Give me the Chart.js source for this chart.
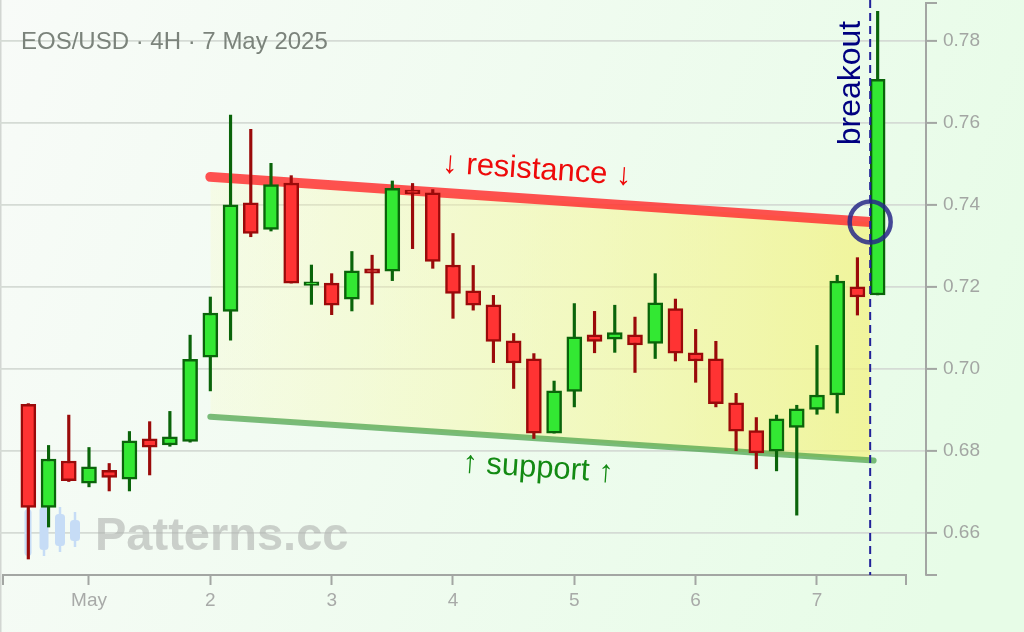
<!DOCTYPE html>
<html><head><meta charset="utf-8">
<script src="https://cdn.jsdelivr.net/npm/chart.js@4.4.0/dist/chart.umd.min.js"></script>
<style>html,body{margin:0;padding:0;background:#f2fbf2;overflow:hidden}#wrap{width:1024px;height:632px;position:relative}canvas{display:block}</style>
</head><body><div id="wrap"><canvas id="c"></canvas></div>
<script>
// ---- data (4H candles, Apr 30 12:00 -> May 7 12:00) ----
const candleIndex = [0,1,2,3,4,5,6,7,8,9,10,11,12,13,14,15,16,17,18,19,20,21,22,23,24,25,26,27,28,29,30,31,32,33,34,35,36,37,38,39,40,41,42];
const opens  = [0.6914,0.6663,0.6776,0.6722,0.6753,0.6732,0.6830,0.6815,0.6824,0.7029,0.7141,0.7406,0.7341,0.7454,0.7204,0.7210,0.7171,0.7245,0.7239,0.7437,0.7430,0.7254,0.7191,0.7157,0.7069,0.7025,0.6844,0.6946,0.7084,0.7073,0.7084,0.7063,0.7148,0.7040,0.7025,0.6918,0.6850,0.6800,0.6858,0.6902,0.6937,0.7201,0.7181];
const highs  = [0.6916,0.6814,0.6888,0.6809,0.6770,0.6848,0.6872,0.6897,0.7083,0.7176,0.7620,0.7585,0.7502,0.7472,0.7254,0.7233,0.7287,0.7278,0.7459,0.7453,0.7438,0.7331,0.7253,0.7180,0.7087,0.7038,0.6971,0.7160,0.7141,0.7156,0.7127,0.7233,0.7171,0.7097,0.7068,0.6941,0.6882,0.6888,0.6912,0.7058,0.7229,0.7272,0.7873];
const lows   = [0.6537,0.6615,0.6726,0.6713,0.6703,0.6703,0.6742,0.6812,0.6822,0.6947,0.7071,0.7323,0.7337,0.7210,0.7158,0.7133,0.7142,0.7158,0.7216,0.7294,0.7246,0.7124,0.7144,0.7016,0.6953,0.6831,0.6844,0.6908,0.7040,0.7041,0.6992,0.7026,0.7020,0.6968,0.6908,0.6801,0.6757,0.6752,0.6644,0.6890,0.6893,0.7132,0.7181];
const closes = [0.6663,0.6781,0.6728,0.6762,0.6736,0.6825,0.6810,0.6835,0.7024,0.7137,0.7401,0.7331,0.7450,0.7210,0.7213,0.7156,0.7240,0.7234,0.7441,0.7428,0.7263,0.7185,0.7156,0.7068,0.7015,0.6844,0.6947,0.7079,0.7068,0.7089,0.7059,0.7162,0.7039,0.7020,0.6916,0.6849,0.6796,0.6879,0.6903,0.6937,0.7215,0.7176,0.7707];
const dayTickIndex  = [3,9,15,21,27,33,39];
const dayTickLabels = ['May','2','3','4','5','6','7'];
const yTicks = [0.66,0.68,0.70,0.72,0.74,0.76,0.78];
const resistanceX = [9, 42];
const resistance  = [0.7469, 0.7358];
const supportX = [9, 41.8];
const support  = [0.6884, 0.6777];
const breakoutX = 41.63;
const titleText = 'EOS/USD · 4H · 7 May 2025';

// ---- styling ----
const FONT = "'Liberation Sans', Arial, Helvetica, sans-serif";
const GREEN_FILL = '#33e833', GREEN_EDGE = '#0a640a';
const RED_FILL = '#ff3333', RED_EDGE = '#9a0a0a';
const AXIS = '#a3a6a3';

function lerp(xs, ys, x){ return ys[0] + (ys[1]-ys[0])*(x-xs[0])/(xs[1]-xs[0]); }
const isUp = i => closes[i] >= opens[i];

const bandX = [resistanceX[0], breakoutX];

const deco = {
  id: 'deco',
  beforeDraw(chart){
    const c = chart.ctx, W = chart.width, H = chart.height;
    c.save();
    const g = c.createLinearGradient(0, 0, W, H*0.6);
    g.addColorStop(0, '#f8fbf8');
    g.addColorStop(1, '#e7fce7');
    c.fillStyle = g; c.fillRect(0, 0, W, H);
    c.strokeStyle = '#d2d6d2'; c.lineWidth = 1.5;
    c.beginPath(); c.moveTo(0.75, 0); c.lineTo(0.75, H); c.stroke();
    c.restore();
  },
  beforeDatasetsDraw(chart){
    const c = chart.ctx;
    c.save();
    // watermark icon
    c.fillStyle = '#c6dcf6'; c.strokeStyle = '#c6dcf6';
    const icon = [[28,503,559,7,509,556],[44,503,556,9,507,550],[60,507,552,10,514,546],[75,512,547,10,520,541]];
    icon.forEach(([x,w1,w2,bw,b1,b2])=>{
      c.lineWidth = 2.5; c.beginPath(); c.moveTo(x,w1); c.lineTo(x,w2); c.stroke();
      c.beginPath(); c.roundRect(x-bw/2, b1, bw, b2-b1, 3.5); c.fill();
    });
    c.font = 'bold 47px ' + FONT;
    c.fillStyle = 'rgba(175,178,175,0.6)';
    c.textBaseline = 'alphabetic'; c.textAlign = 'left';
    c.fillText('Patterns.cc', 95, 550);
    // title
    c.font = '24px ' + FONT;
    c.fillStyle = '#7b837b';
    c.textBaseline = 'middle';
    c.fillText(titleText, 21, 42);
    c.restore();
  },
  afterDatasetsDraw(chart){
    const c = chart.ctx, xs = chart.scales.x, ys = chart.scales.y, ca = chart.chartArea;
    c.save();
    // x axis line with end caps
    c.strokeStyle = AXIS; c.lineWidth = 2;
    const xl = ca.left + 3, xr = ca.right - 20;
    c.beginPath();
    c.moveTo(xl, ca.bottom + 10); c.lineTo(xl, ca.bottom); c.lineTo(xr, ca.bottom); c.lineTo(xr, ca.bottom + 10);
    c.stroke();
    // y axis end caps
    c.beginPath();
    c.moveTo(ca.right, ca.top); c.lineTo(ca.right + 11, ca.top);
    c.moveTo(ca.right, ca.bottom); c.lineTo(ca.right + 11, ca.bottom);
    c.stroke();
    // breakout dashed line
    const bx = xs.getPixelForValue(breakoutX);
    c.strokeStyle = '#22229a'; c.lineWidth = 2; c.setLineDash([8,5]);
    c.beginPath(); c.moveTo(bx, 0); c.lineTo(bx, ca.bottom); c.stroke();
    c.setLineDash([]);
    // circle
    const by = ys.getPixelForValue(lerp(resistanceX, resistance, breakoutX));
    c.strokeStyle = 'rgba(40,40,135,0.85)'; c.lineWidth = 4.5;
    c.beginPath(); c.arc(bx, by, 20.5, 0, Math.PI*2); c.stroke();
    // breakout label
    c.save();
    c.translate(bx - 19, 83); c.rotate(-Math.PI/2);
    c.font = '32px ' + FONT; c.fillStyle = '#000080';
    c.textAlign = 'center'; c.textBaseline = 'middle';
    c.fillText('breakout', 0, 0);
    c.restore();
    // trend labels
    const ang = Math.atan2(ys.getPixelForValue(resistance[1]) - ys.getPixelForValue(resistance[0]),
                           xs.getPixelForValue(resistanceX[1]) - xs.getPixelForValue(resistanceX[0]));
    const lab = (txt, xv, yPix, col) => {
      c.save(); c.translate(xs.getPixelForValue(xv), yPix); c.rotate(ang);
      c.font = '31px ' + FONT; c.fillStyle = col; c.textAlign = 'center'; c.textBaseline = 'middle';
      c.fillText(txt, 0, 0); c.restore();
    };
    lab('↓ resistance ↓', 25.15, ys.getPixelForValue(lerp(resistanceX, resistance, 25.15)) - 29, '#ee0a0a');
    lab('↑ support ↑', 25.2, ys.getPixelForValue(lerp(supportX, support, 25.2)) + 30, '#138a13');
    c.restore();
  }
};

const bandGradient = (ctx) => {
  const chart = ctx.chart, ca = chart.chartArea;
  if (!ca) return 'rgba(245,245,140,0.4)';
  const x0 = chart.scales.x.getPixelForValue(bandX[0]), x1 = chart.scales.x.getPixelForValue(bandX[1]);
  const g = chart.ctx.createLinearGradient(x0, 0, x1, 0);
  g.addColorStop(0, 'rgba(250,250,170,0.18)');
  g.addColorStop(0.5, 'rgba(246,246,150,0.48)');
  g.addColorStop(1, 'rgba(242,242,130,0.75)');
  return g;
};

const cfg = {
  type: 'line',
  data: {
    datasets: [
      { type:'bar', label:'body', order:1, grouped:false, barThickness:15,
        data: candleIndex.map(i => ({x:i, y:[opens[i], closes[i]]})),
        backgroundColor: candleIndex.map(i => isUp(i) ? GREEN_FILL : RED_FILL),
        borderColor: candleIndex.map(i => isUp(i) ? GREEN_EDGE : RED_EDGE),
        borderWidth: 2.5, borderSkipped: false },
      { type:'bar', label:'wick', order:5, grouped:false, barThickness:2.5,
        data: candleIndex.map(i => ({x:i, y:[lows[i], highs[i]]})),
        backgroundColor: candleIndex.map(i => isUp(i) ? GREEN_EDGE : RED_EDGE),
        borderWidth: 0 },
      { type:'line', label:'resistance', order:8,
        data: resistanceX.map((x,k)=>({x, y:resistance[k]})),
        borderColor:'rgba(255,50,50,0.85)', borderWidth:10, borderCapStyle:'round', pointRadius:0, fill:false },
      { type:'line', label:'support', order:8,
        data: supportX.map((x,k)=>({x, y:support[k]})),
        borderColor:'rgba(70,160,70,0.7)', borderWidth:6, borderCapStyle:'round', pointRadius:0, fill:false },
      { type:'line', label:'bandTop', order:10,
        data: bandX.map(x => ({x, y: lerp(resistanceX, resistance, x)})),
        borderWidth:0, pointRadius:0, fill:false },
      { type:'line', label:'bandBottom', order:10,
        data: bandX.map(x => ({x, y: lerp(supportX, support, x)})),
        borderWidth:0, pointRadius:0, fill:'-1', backgroundColor: bandGradient }
    ]
  },
  options: {
    animation:false, responsive:true, maintainAspectRatio:false,
    layout:{ padding:{ top:3, left:0, right:0, bottom:0 } },
    plugins:{ legend:{display:false}, tooltip:{enabled:false} },
    scales:{
      x:{ type:'linear', position:'bottom', min:-1.401, max:44.391, offset:false,
          grid:{ display:true, drawOnChartArea:false, drawTicks:true, tickLength:10, tickColor:AXIS, tickWidth:2, offset:false },
          border:{ display:false },
          afterBuildTicks: s => { s.ticks = dayTickIndex.map(v => ({value:v})); },
          afterFit: s => { s.height = 57; s.paddingLeft = 0; s.paddingRight = 0; },
          ticks:{ autoSkip:false, maxRotation:0, padding:4, color:'#a8aaa8', font:{family:FONT, size:19},
                  callback: v => dayTickLabels[dayTickIndex.indexOf(v)] } },
      y:{ type:'linear', position:'right', min:0.6498, max:0.78931,
          grid:{ color:'#d5dbd5', lineWidth:1.8, tickLength:11, tickColor:AXIS, tickWidth:2 },
          border:{ display:true, color:AXIS, width:2 },
          afterBuildTicks: s => { s.ticks = yTicks.map(v => ({value:v})); },
          afterFit: s => { s.width = 98; s.paddingTop = 0; s.paddingBottom = 0; },
          ticks:{ padding:6, color:'#a3a6a3', font:{family:FONT, size:19}, callback: v => v.toFixed(2) } }
    }
  },
  plugins:[deco]
};
new Chart(document.getElementById('c'), cfg);
</script>
</body></html>
